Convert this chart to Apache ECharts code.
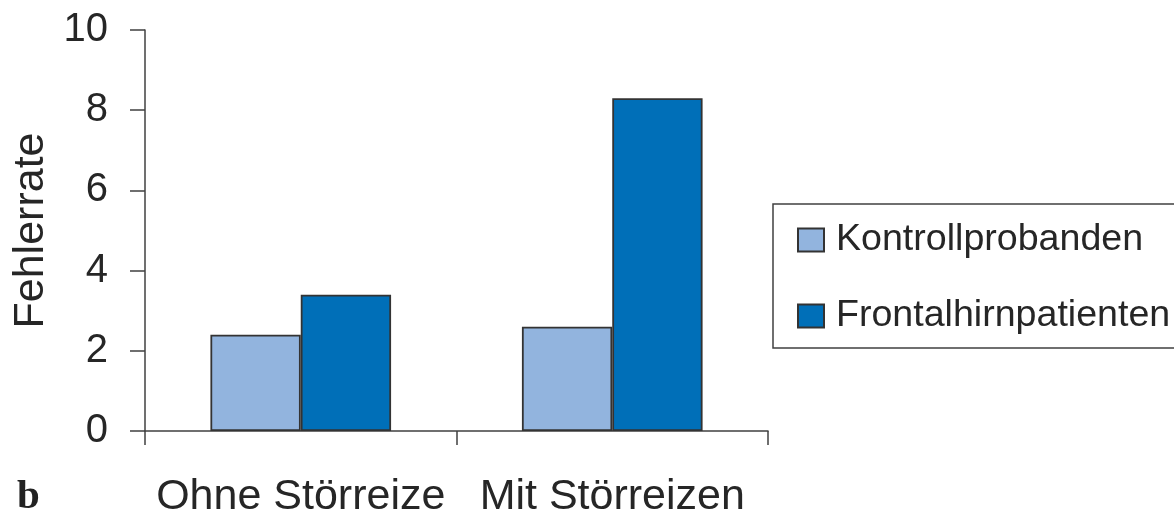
<!DOCTYPE html>
<html>
<head>
<meta charset="utf-8">
<title>Fehlerrate</title>
<script src="https://cdn.jsdelivr.net/npm/echarts@6/dist/echarts.min.js"></script>
<style>
  html, body { margin: 0; padding: 0; background: #ffffff; }
  #chart { width: 1174px; height: 514px; }
</style>
</head>
<body>
<div id="chart"></div>
<script>
// Conditions on the x axis
const categories = ['Ohne Störreize', 'Mit Störreizen'];
// Error rates per group
const kontrollValues = [2.4, 2.6];
const frontalValues = [3.4, 8.3];
const seriesNames = ['Kontrollprobanden', 'Frontalhirnpatienten'];
const yTicks = { min: 0, max: 10, interval: 2 };

const FONT = '"Liberation Sans", Arial, Helvetica, sans-serif';
const TEXT = '#262626';
const AXIS = '#404040';

const chart = echarts.init(document.getElementById('chart'), null, { renderer: 'canvas' });

chart.setOption({
  animation: false,
  backgroundColor: '#ffffff',
  grid: { left: 145, right: 406, top: 30, bottom: 83, outerBoundsMode: 'none', containLabel: false },
  legend: {
    orient: 'vertical',
    left: 773,
    top: 204,
    icon: 'rect',
    itemWidth: 26,
    itemHeight: 23,
    itemGap: 38,
    padding: [17, 30, 13, 24],
    borderColor: AXIS,
    borderWidth: 1.5,
    textStyle: { fontFamily: FONT, fontSize: 37.6, color: TEXT, padding: [0, 0, 0, 7] },
    data: seriesNames
  },
  xAxis: {
    type: 'category',
    data: categories,
    axisLine: { lineStyle: { color: AXIS, width: 1.5 } },
    axisTick: { show: true, interval: 0, length: 14, lineStyle: { color: AXIS, width: 1.5 } },
    axisLabel: {
      fontFamily: FONT, fontSize: 43, color: TEXT, margin: 45,
      interval: 0, hideOverlap: false
    }
  },
  yAxis: {
    type: 'value',
    min: yTicks.min,
    max: yTicks.max,
    interval: yTicks.interval,
    name: 'Fehlerrate',
    nameLocation: 'middle',
    nameGap: 81,
    nameTextStyle: { fontFamily: FONT, fontSize: 43, color: TEXT },
    axisLine: { show: true, lineStyle: { color: AXIS, width: 1.5 } },
    axisTick: { show: true, length: 15, lineStyle: { color: AXIS, width: 1.5 } },
    axisLabel: { fontFamily: FONT, fontSize: 40, color: TEXT, margin: 37 },
    splitLine: { show: false }
  },
  series: [
    {
      name: seriesNames[0],
      type: 'bar',
      data: kontrollValues,
      barGap: '0%',
      barCategoryGap: '42%',
      itemStyle: { color: '#92b4de', borderColor: '#333333', borderWidth: 1.8 }
    },
    {
      name: seriesNames[1],
      type: 'bar',
      data: frontalValues,
      barGap: '0%',
      barCategoryGap: '42%',
      itemStyle: { color: '#006fb8', borderColor: '#333333', borderWidth: 1.8 }
    }
  ],
  graphic: [
    {
      type: 'text',
      left: 17,
      top: 477,
      style: {
        text: 'b',
        font: 'bold 41px "Liberation Serif", "DejaVu Serif", serif',
        fill: '#222222'
      }
    }
  ]
});
</script>
</body>
</html>
